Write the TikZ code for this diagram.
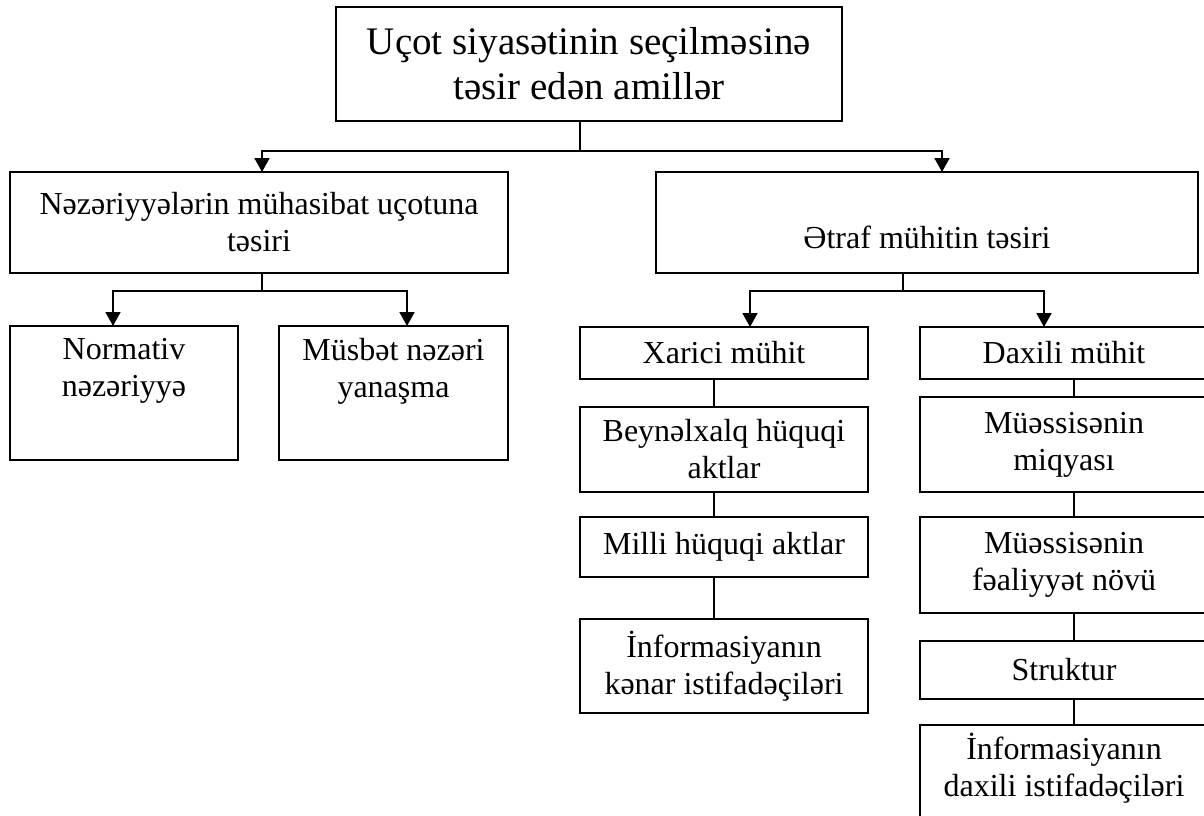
\documentclass[tikz,border=0pt]{standalone}
\usepackage{fontspec}
\setmainfont{Liberation Serif}
\usetikzlibrary{arrows.meta}
\begin{document}
\begin{tikzpicture}[x=1pt,y=-1pt,
  box/.style={draw, line width=1.8pt, inner sep=0pt, outer sep=0pt, align=center,
              font=\fontsize{32}{37}\selectfont},
  bigbox/.style={box, font=\fontsize{39}{45}\selectfont},
  txt/.style={inner sep=0pt, outer sep=0pt, align=center, font=\fontsize{32}{37}\selectfont},
  link/.style={line width=1.8pt},
  arr/.style={link, -{Triangle[width=15pt,length=14pt]}}]
\useasboundingbox (0,0) rectangle (1204,816);

% boxes
\node[bigbox, minimum width=506pt, minimum height=114pt] (top) at (589,64)
  {Uçot siyasətinin seçilməsinə\\təsir edən amillər};
\node[box, minimum width=498pt, minimum height=101pt] (L) at (259,222.5)
  {Nəzəriyyələrin mühasibat uçotuna\\təsiri};
\node[box, minimum width=542pt, minimum height=101pt] (R) at (927,222.5) {};
\node[txt, anchor=base] (Rt) at (927,248) {Ətraf mühitin təsiri};

\node[box, minimum width=228pt, minimum height=134pt] (N1) at (124,393) {};
\node[txt, anchor=north] (N1t) at (124,338) {Normativ\\nəzəriyyə};
\node[box, minimum width=229pt, minimum height=134pt] (N2) at (393.5,393) {};
\node[txt, anchor=north] (N2t) at (393.5,338) {Müsbət nəzəri\\yanaşma};

\node[box, minimum width=288pt, minimum height=52pt] (X0) at (724,353) {Xarici mühit};
\node[box, minimum width=288pt, minimum height=85pt] (X1) at (724,449.5) {Beynəlxalq hüquqi\\aktlar};
\node[box, minimum width=288pt, minimum height=60pt] (X2) at (724,547) {Milli hüquqi aktlar};
\node[box, minimum width=288pt, minimum height=94pt] (X3) at (724,666) {İnformasiyanın\\kənar istifadəçiləri};

\node[box, minimum width=288pt, minimum height=52pt] (D0) at (1064,353) {Daxili mühit};
\node[box, minimum width=288pt, minimum height=95pt] (D1) at (1064,444.5) {Müəssisənin\\miqyası};
\node[box, minimum width=288pt, minimum height=96pt] (D2) at (1064,565) {Müəssisənin\\fəaliyyət növü};
\node[box, minimum width=288pt, minimum height=58pt] (D3) at (1064,670) {Struktur};
\node[box, minimum width=288pt, minimum height=105pt] (D4) at (1064,777.5) {};
\node[txt] (D4t) at (1064,768) {İnformasiyanın\\daxili istifadəçiləri};

% branch points
\coordinate (j0) at (580,151);
\coordinate (aL) at (262,151);
\coordinate (aR) at (942,151);
\coordinate (j1) at (262,291);
\coordinate (aN1) at (113,291);
\coordinate (aN2) at (407,291);
\coordinate (j2) at (903,291);
\coordinate (aX) at (750,291);
\coordinate (aD) at (1044,291);
\coordinate (cx) at (714,0);
\coordinate (cd) at (1074,0);

% connectors
\draw[link] (top.south -| j0) -- (j0);
\draw[arr] (j0) -- (aL) -- (aL |- L.north);
\draw[arr] (j0) -- (aR) -- (aR |- R.north);

\draw[link] (L.south -| j1) -- (j1);
\draw[arr] (j1) -- (aN1) -- (aN1 |- N1.north);
\draw[arr] (j1) -- (aN2) -- (aN2 |- N2.north);

\draw[link] (R.south -| j2) -- (j2);
\draw[arr] (j2) -- (aX) -- (aX |- X0.north);
\draw[arr] (j2) -- (aD) -- (aD |- D0.north);

\draw[link] (X0.south -| cx) -- (X1.north -| cx);
\draw[link] (X1.south -| cx) -- (X2.north -| cx);
\draw[link] (X2.south -| cx) -- (X3.north -| cx);

\draw[link] (D0.south -| cd) -- (D1.north -| cd);
\draw[link] (D1.south -| cd) -- (D2.north -| cd);
\draw[link] (D2.south -| cd) -- (D3.north -| cd);
\draw[link] (D3.south -| cd) -- (D4.north -| cd);
\end{tikzpicture}
\end{document}
